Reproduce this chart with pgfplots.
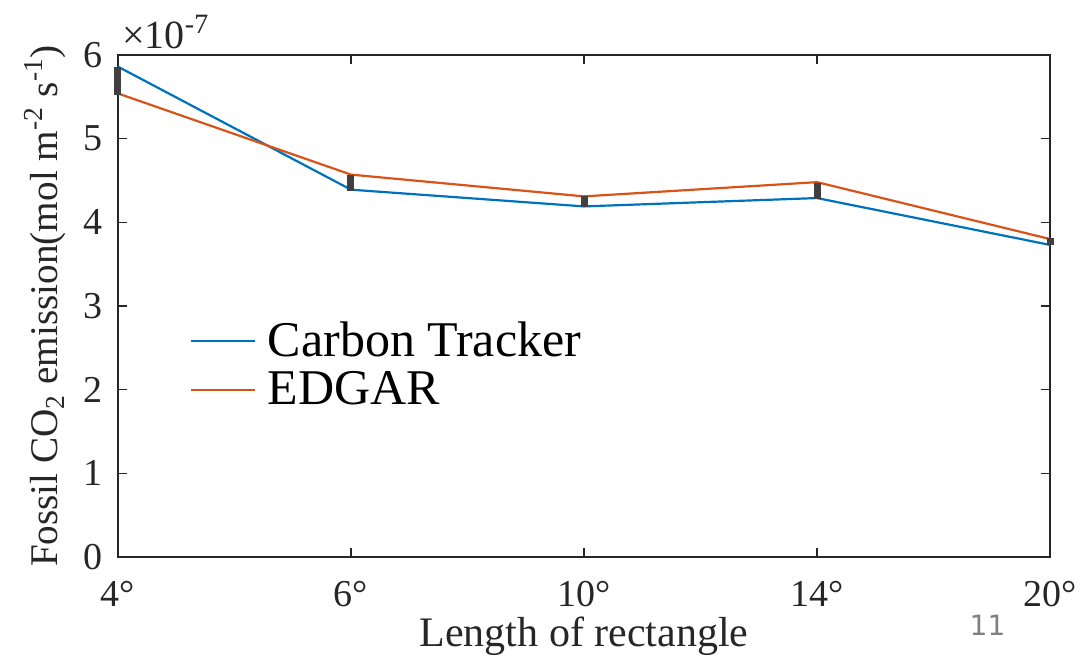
\documentclass[border=0pt]{standalone}
\usepackage{fontspec}
\setmainfont{Liberation Serif}
\newfontfamily\graysans{DejaVu Sans}
\usepackage{pgfplots}
\pgfplotsset{compat=1.18}
\definecolor{mblue}{rgb}{0,0.447,0.741}
\definecolor{morange}{rgb}{0.85,0.325,0.098}
\definecolor{axgray}{HTML}{262626}
\definecolor{bargray}{HTML}{404040}
\begin{document}
\begin{tikzpicture}
\begin{axis}[
  scale only axis,
  width=466pt, height=251pt,
  xmin=0, xmax=4, ymin=0, ymax=6,
  xtick={0,1,2,3,4},
  xticklabels={4°,6°,10°,14°,20°},
  ytick={0,1,2,3,4,5,6},
  tick align=inside,
  tick pos=both,
  major tick length=4.5pt,
  axis line style={axgray, line width=0.8pt},
  every tick/.style={axgray, line width=0.8pt},
  ticklabel style={font=\fontsize{19}{21}\selectfont, text=axgray},
  /pgf/number format/assume math mode=true,
  xticklabel style={yshift=-8.5pt},
  yticklabel style={xshift=-4pt},
  xlabel={Length of rectangle},
  ylabel={Fossil CO\textsubscript{2} emission(mol m\textsuperscript{-2} s\textsuperscript{-1})},
  xlabel style={font=\fontsize{21}{23}\selectfont, text=axgray, yshift=1.5pt},
  ylabel style={font=\fontsize{19.6}{22}\selectfont, text=axgray, yshift=2pt},
  clip=false,
  legend style={draw=none, fill=none, at={(0.07,0.485)}, anchor=north west,
    font=\fontsize{25}{28}\selectfont, row sep=2pt, column sep=4pt, text=black},
  legend cell align=left,
  legend image code/.code={\draw[#1, line width=1.1pt] (0pt,0pt) -- (32pt,0pt);},
]
\addplot[mblue, line width=1.1pt] coordinates {(0,5.86) (1,4.39) (2,4.19) (3,4.29) (4,3.73)};
\addlegendentry{Carbon Tracker}
\addplot[morange, line width=1.1pt] coordinates {(0,5.54) (1,4.57) (2,4.31) (3,4.48) (4,3.80)};
\addlegendentry{EDGAR}
\addplot[draw=none, forget plot,
  error bars/.cd, y dir=both, y explicit,
  error bar style={line width=3.5pt, bargray}, error mark=none]
  coordinates {
  (0,5.69) +- (0,0.17)
  (1,4.47) +- (0,0.09)
  (2,4.245) +- (0,0.065)
  (3,4.375) +- (0,0.10)
  (4,3.77) +- (0,0.04)
  };
\coordinate (LL) at (rel axis cs:0,0);
\coordinate (UR) at (rel axis cs:1,1);
\coordinate (UL) at (rel axis cs:0,1);
\coordinate (GR) at (rel axis cs:0.933,0);
\end{axis}
\node[anchor=base west, font=\fontsize{20}{22}\selectfont, text=axgray, inner sep=0pt]
  at ([xshift=2pt,yshift=3pt]UL) {×10\textsuperscript{-7}};
\node[font=\graysans\fontsize{14}{16}\selectfont, text=gray, inner sep=0pt]
  at ([yshift=-34pt]GR) {11};
\pgfresetboundingbox
\path ([xshift=-59pt,yshift=-50pt]LL) rectangle ([xshift=16pt,yshift=27.5pt]UR);
\end{tikzpicture}
\end{document}
